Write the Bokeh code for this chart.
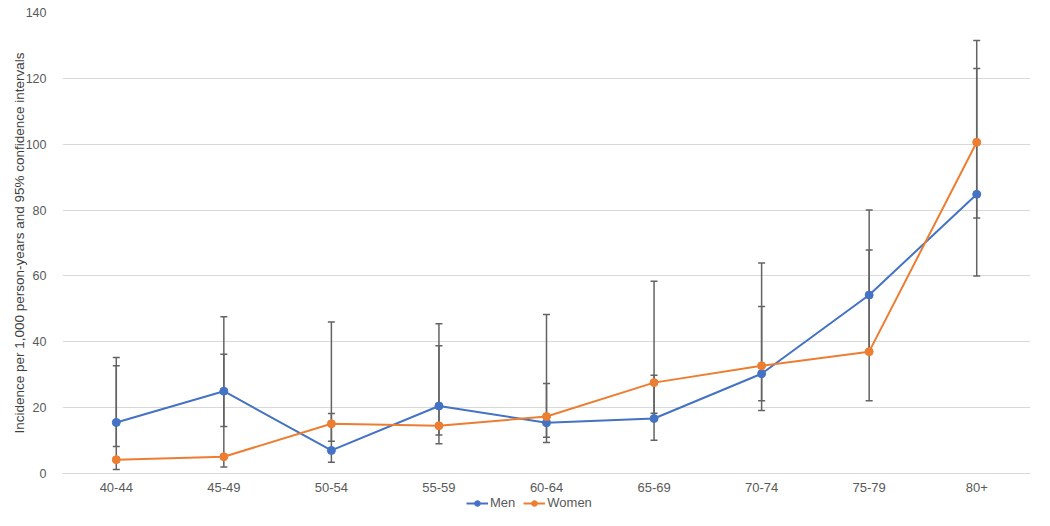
from bokeh.plotting import figure
from bokeh.layouts import column
from bokeh.models import FactorRange, Legend, LegendItem, FixedTicker, ColumnDataSource, Range1d
from bokeh.embed import file_html
from bokeh.resources import INLINE

categories = ["40-44", "45-49", "50-54", "55-59", "60-64", "65-69", "70-74", "75-79", "80+"]
men = [15.5, 25.0, 7.0, 20.5, 15.4, 16.7, 30.3, 54.2, 84.8]
men_low = [8.2, 14.3, 3.4, 11.7, 9.4, 10.1, 19.1, 36.5, 60.0]
men_high = [35.2, 47.6, 18.2, 45.5, 27.3, 29.8, 50.7, 80.0, 123.0]
women = [4.2, 5.1, 15.1, 14.5, 17.3, 27.6, 32.7, 37.0, 100.6]
women_low = [1.2, 2.0, 9.8, 9.0, 11.0, 18.3, 22.1, 22.1, 77.6]
women_high = [32.7, 36.2, 46.0, 38.8, 48.3, 58.4, 63.9, 67.9, 131.5]
y_ticks = [0, 20, 40, 60, 80, 100, 120, 140]
series_names = ["Men", "Women"]

MEN_C = "#4472C4"
WOMEN_C = "#ED7D31"
ERR_C = "#636363"
TXT_C = "#595959"
FONT = "Liberation Sans"

p = figure(width=1034, height=494, x_range=FactorRange(*categories), y_range=(0, 140),
           output_backend="svg", toolbar_location=None,
           min_border_left=62, min_border_right=4, min_border_top=12, min_border_bottom=18)
p.outline_line_color = None
p.background_fill_color = "white"
p.border_fill_color = "white"

# grid / axes
p.xgrid.grid_line_color = None
p.ygrid.grid_line_color = "#d9d9d9"
p.ygrid.grid_line_width = 1
p.yaxis.ticker = FixedTicker(ticks=y_ticks)
p.yaxis.axis_line_color = None
p.yaxis.major_tick_line_color = None
p.yaxis.minor_tick_line_color = None
p.yaxis.major_label_text_font = FONT
p.yaxis.major_label_text_font_size = "12.5px"
p.yaxis.major_label_text_color = TXT_C
p.yaxis.major_label_standoff = 10
p.yaxis.axis_label = "Incidence per 1,000 person-years and 95% confidence intervals"
p.yaxis.axis_label_text_font = FONT
p.yaxis.axis_label_text_font_size = "13.5px"
p.yaxis.axis_label_text_font_style = "normal"
p.yaxis.axis_label_text_color = "#404040"
p.yaxis.axis_label_standoff = -4

p.xaxis.axis_line_color = "#d9d9d9"
p.xaxis.major_tick_line_color = None
p.xaxis.minor_tick_line_color = None
p.xaxis.major_label_text_font = FONT
p.xaxis.major_label_text_font_size = "13px"
p.xaxis.major_label_text_color = TXT_C
p.xaxis.major_label_standoff = 3

# error bars
for lo, hi in ((men_low, men_high), (women_low, women_high)):
    src = ColumnDataSource(dict(x=categories, lo=lo, hi=hi))
    p.segment(x0="x", y0="lo", x1="x", y1="hi", source=src, line_color=ERR_C, line_width=1.5)
    p.scatter(x="x", y="lo", source=src, marker="dash", size=7, line_color=ERR_C, line_width=1.5)
    p.scatter(x="x", y="hi", source=src, marker="dash", size=7, line_color=ERR_C, line_width=1.5)

# series
men_src = ColumnDataSource(dict(x=categories, y=men))
women_src = ColumnDataSource(dict(x=categories, y=women))
p.line(x="x", y="y", source=men_src, line_color=MEN_C, line_width=2)
p.scatter(x="x", y="y", source=men_src, size=8, fill_color=MEN_C, line_color=MEN_C)
p.line(x="x", y="y", source=women_src, line_color=WOMEN_C, line_width=2)
p.scatter(x="x", y="y", source=women_src, size=8, fill_color=WOMEN_C, line_color=WOMEN_C)

# legend strip below the chart (its renderers use the same data, kept out of its view)
lg = figure(width=1034, height=16, output_backend="svg", toolbar_location=None,
            x_range=FactorRange(*categories), y_range=Range1d(1000, 1001),
            x_axis_location=None, y_axis_location=None,
            min_border_left=0, min_border_right=0, min_border_top=0, min_border_bottom=0)
lg.outline_line_color = None
lg.grid.grid_line_color = None
lg.border_fill_color = "white"
items = []
for name, col, src in zip(series_names, (MEN_C, WOMEN_C), (men_src, women_src)):
    r1 = lg.line(x="x", y="y", source=src, line_color=col, line_width=2)
    r2 = lg.scatter(x="x", y="y", source=src, size=7, fill_color=col, line_color=col)
    items.append(LegendItem(label=name, renderers=[r1, r2]))
legend = Legend(items=items, orientation="horizontal", location=(404, 0))
legend.label_text_font = FONT
legend.label_text_font_size = "13px"
legend.label_text_color = TXT_C
legend.border_line_color = None
legend.background_fill_alpha = 0
legend.padding = 1
legend.margin = 0
legend.spacing = 8
legend.label_standoff = 2
legend.glyph_width = 22
legend.label_height = 14
legend.glyph_height = 14
lg.add_layout(legend, "center")

layout = column(p, lg, spacing=0)
open("out.html", "w").write(file_html(layout, INLINE))
